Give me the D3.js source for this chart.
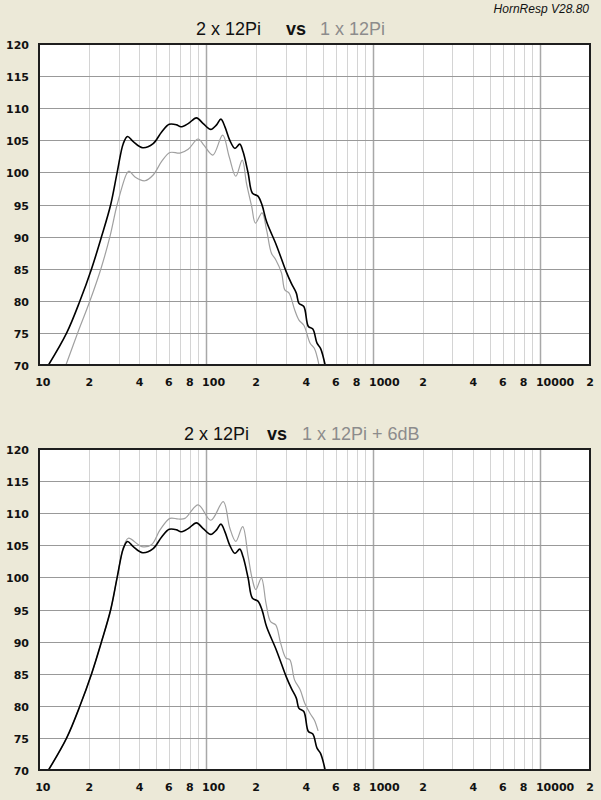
<!DOCTYPE html>
<html>
<head>
<meta charset="utf-8">
<script src="https://cdn.jsdelivr.net/npm/d3@7"></script>
<style>
  html, body { margin: 0; padding: 0; background: #ECE9D8; }
  svg { display: block; }
</style>
</head>
<body>
<svg id="chart" width="601" height="800"></svg>
<script>
// ---- Data ----
// 2 x 12Pi (black), same in both panels
const freqBlack = [11.4, 14.65, 17.6, 20.66, 23.7, 26.9, 29.4, 32.0, 33.9, 36.7, 41.8, 48.3, 54.3, 60.3, 66.9, 70.8, 78.3, 87.8, 96.3, 107, 115.8, 123, 130, 139, 149, 159.5, 167, 179, 190, 205, 217, 231, 264, 303, 325, 348, 361, 386, 411, 437, 463, 486, 518];
const splBlack  = [70, 75, 80, 85, 90, 95, 100, 104.5, 105.6, 104.8, 103.85, 104.5, 106.3, 107.5, 107.4, 107.1, 107.6, 108.5, 107.6, 106.7, 107.4, 108.3, 107.1, 105.0, 103.75, 104.4, 103.2, 99.9, 96.75, 96.3, 94.9, 92.3, 88.7, 84.5, 82.7, 81.2, 79.6, 79.1, 76.0, 75.6, 73.4, 72.6, 70];

// 1 x 12Pi (gray, top panel)
const freqGray = [14.5, 17.05, 20.2, 23.5, 26.6, 29.4, 33.5, 34.6, 37.6, 43.1, 48.3, 54.3, 60.9, 69.9, 78.3, 89.8, 97.5, 110, 126, 138, 151, 165, 175, 188, 198, 217, 231, 247, 262, 284, 297, 315, 340, 361, 386, 421, 446, 476];
const splGray  = [70, 75, 80, 85, 90, 95, 99.8, 100.2, 99.3, 98.7, 99.6, 101.7, 103.1, 103.0, 103.6, 105.2, 104.2, 102.7, 105.8, 102.4, 99.4, 101.9, 98.3, 94.7, 92.1, 93.7, 91.0, 87.4, 86.4, 84.3, 81.7, 81.2, 78.6, 77.0, 76.2, 73.4, 72.6, 70];

// 1 x 12Pi + 6dB (gray, bottom panel)
const freqGray6 = [11.4, 14.65, 17.6, 20.66, 23.7, 26.9, 29.4, 32.0, 34.3, 41.3, 47.2, 53.1, 60.9, 68.3, 74.9, 89.8, 107, 127, 139, 151, 166, 179, 190, 199, 215, 229, 244, 262, 280, 302, 318, 340, 367, 391, 421, 446, 470];
const splGray6  = [70, 75, 80, 85, 90, 95, 100, 104.6, 106.1, 104.8, 105.1, 107.4, 109.2, 109.1, 109.2, 111.3, 108.9, 111.8, 107.7, 105.6, 107.9, 103.3, 99.6, 98.1, 99.9, 96.0, 93.1, 92.6, 89.8, 87.4, 87.2, 84.0, 82.5, 80.4, 78.8, 77.8, 76.1];

const yTicks = [70, 75, 80, 85, 90, 95, 100, 105, 110, 115, 120];
const xTickValues = [10, 20, 40, 60, 80, 100, 200, 400, 600, 800, 1000, 2000, 4000, 6000, 8000, 10000, 20000];
const xTickLabels = ["10", "2", "4", "6", "8", "100", "2", "4", "6", "8", "1000", "2", "4", "6", "8", "10000", "2"];
const minorGrid = [20, 30, 40, 50, 60, 70, 80, 90, 200, 300, 400, 500, 600, 700, 800, 900, 2000, 3000, 4000, 5000, 6000, 7000, 8000, 9000];
const majorGrid = [100, 1000, 10000];

const svg = d3.select("#chart");
svg.append("rect").attr("width", 601).attr("height", 800).attr("fill", "#ECE9D8");

svg.append("text")
  .attr("x", 589).attr("y", 13)
  .attr("text-anchor", "end")
  .attr("font-family", "Liberation Sans, Arial, sans-serif")
  .attr("font-style", "italic")
  .attr("font-size", 12)
  .attr("fill", "#111")
  .text("HornResp V28.80");

const x = d3.scaleLog().domain([10, 20000]).range([39, 590]);

function panel(id, top, bottom, titleParts, series) {
  const y = d3.scaleLinear().domain([70, 120]).range([bottom, top]);
  const g = svg.append("g");

  titleParts.forEach(p => {
    g.append("text")
      .attr("x", p.x).attr("y", top - 9)
      .attr("font-family", "Liberation Sans, Arial, sans-serif")
      .attr("font-size", 18)
      .attr("font-weight", p.bold ? "bold" : "normal")
      .attr("fill", p.color)
      .text(p.text);
  });

  g.append("rect")
    .attr("x", x.range()[0]).attr("y", top)
    .attr("width", x.range()[1] - x.range()[0]).attr("height", bottom - top)
    .attr("fill", "#fff");

  g.selectAll(null).data(minorGrid).enter().append("line")
    .attr("x1", d => Math.round(x(d)) + 0.5).attr("x2", d => Math.round(x(d)) + 0.5)
    .attr("y1", top).attr("y2", bottom)
    .attr("stroke", "#d4d4d4").attr("stroke-width", 1);
  g.selectAll(null).data(majorGrid).enter().append("line")
    .attr("x1", d => Math.round(x(d)) + 0.5).attr("x2", d => Math.round(x(d)) + 0.5)
    .attr("y1", top).attr("y2", bottom)
    .attr("stroke", "#a8a8a8").attr("stroke-width", 1.5);
  g.selectAll(null).data(yTicks.slice(1, -1)).enter().append("line")
    .attr("x1", x.range()[0]).attr("x2", x.range()[1])
    .attr("y1", d => Math.round(y(d)) + 0.5).attr("y2", d => Math.round(y(d)) + 0.5)
    .attr("stroke", "#999").attr("stroke-width", 1);

  const clipId = "clip-" + id;
  g.append("clipPath").attr("id", clipId).append("rect")
    .attr("x", x.range()[0]).attr("y", top)
    .attr("width", x.range()[1] - x.range()[0]).attr("height", bottom - top);
  const line = d3.line().x(d => x(d[0])).y(d => y(d[1])).curve(d3.curveCatmullRom.alpha(0.5));
  series.forEach(s => {
    g.append("path")
      .datum(d3.zip(s.f, s.v))
      .attr("d", line)
      .attr("fill", "none")
      .attr("stroke", s.color)
      .attr("stroke-width", s.w)
      .attr("stroke-linejoin", "round")
      .attr("clip-path", `url(#${clipId})`);
  });

  g.append("rect")
    .attr("x", x.range()[0]).attr("y", top)
    .attr("width", x.range()[1] - x.range()[0]).attr("height", bottom - top)
    .attr("fill", "none").attr("stroke", "#1e1e1e").attr("stroke-width", 2);

  g.selectAll(null).data(yTicks).enter().append("text")
    .attr("x", 29).attr("y", d => y(d) + 5)
    .attr("text-anchor", "end")
    .attr("font-family", "DejaVu Sans, Verdana, sans-serif")
    .attr("font-weight", "bold").attr("font-size", 11)
    .attr("fill", "#111")
    .text(d => d);

  const digitW = 7.66;
  g.selectAll(null).data(xTickValues).enter().append("text")
    .attr("x", (d, i) => xTickLabels[i].length > 1 ? x(d) - digitW / 2 : x(d))
    .attr("y", bottom + 21)
    .attr("text-anchor", (d, i) => xTickLabels[i].length > 1 ? "start" : "middle")
    .attr("font-family", "DejaVu Sans, Verdana, sans-serif")
    .attr("font-weight", "bold").attr("font-size", 11)
    .attr("fill", "#111")
    .text((d, i) => xTickLabels[i]);
}

panel("top", 44, 365,
  [{x: 196, text: "2 x 12Pi", color: "#111"},
   {x: 286, text: "vs", color: "#111", bold: true},
   {x: 320, text: "1 x 12Pi", color: "#8c8c8c"}],
  [{f: freqGray, v: splGray, color: "#a0a0a0", w: 1.2},
   {f: freqBlack, v: splBlack, color: "#000", w: 1.6}]);

panel("bottom", 449, 770,
  [{x: 184, text: "2 x 12Pi", color: "#111"},
   {x: 267, text: "vs", color: "#111", bold: true},
   {x: 302, text: "1 x 12Pi + 6dB", color: "#8c8c8c"}],
  [{f: freqGray6, v: splGray6, color: "#a0a0a0", w: 1.2},
   {f: freqBlack, v: splBlack, color: "#000", w: 1.6}]);
</script>
</body>
</html>
